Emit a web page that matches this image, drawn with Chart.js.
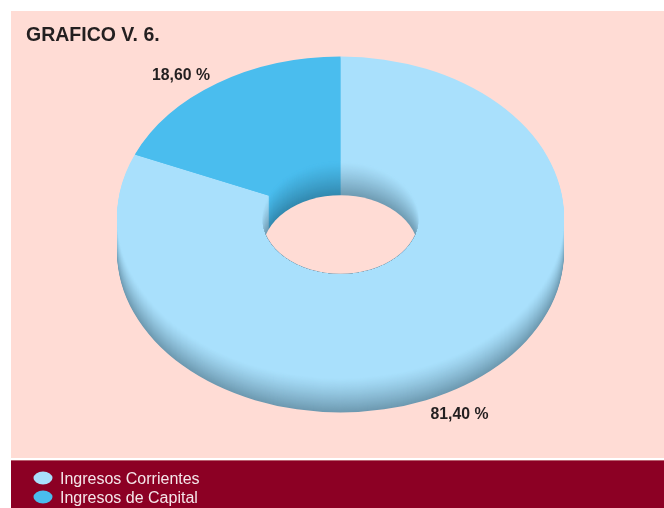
<!DOCTYPE html>
<html>
<head>
<meta charset="utf-8">
<title>Grafico V.6</title>
<script src="https://cdn.jsdelivr.net/npm/chart.js@4"></script>
<style>
  html, body { margin: 0; padding: 0; background: #fff; overflow: hidden; }
  canvas { display: block; }
</style>
</head>
<body>
<canvas id="grafico" width="664" height="508"></canvas>
<script>
const categorias = ['Ingresos Corrientes', 'Ingresos de Capital'];
const valores = [81.40, 18.60];
const etiquetas = ['81,40 %', '18,60 %'];
const titulo = 'GRAFICO V. 6.';
const colores = ['#A9E0FC', '#4ABDEE'];
const coloresSombra = ['#6E9AB1', '#3288AE'];
const posEtiquetas = [[459.5, 418.5], [181, 80]];

const ROSA = '#FFDCD5';
const GUINDA = '#8C0024';
const APLASTADO = 0.72;  // relacion alto/ancho de la elipse
const CENTRO_Y = 217.5;
const GROSOR = 34;

function mezcla(a, b, t) {
  const pa = parseInt(a.slice(1), 16), pb = parseInt(b.slice(1), 16);
  const canal = s => Math.round(((pa >> s) & 255) * (1 - t) + ((pb >> s) & 255) * t);
  return `rgb(${canal(16)},${canal(8)},${canal(0)})`;
}

function sector(ctx, arc, radio, d) {
  ctx.beginPath();
  ctx.moveTo(arc.x, CENTRO_Y + d);
  ctx.ellipse(arc.x, CENTRO_Y + d, radio, radio * APLASTADO, 0, arc.startAngle, arc.endAngle);
  ctx.closePath();
  ctx.fill();
}

// fondo, paredes del anillo y textos
const dona3d = {
  id: 'dona3d',
  beforeDraw(chart) {
    const ctx = chart.ctx;
    ctx.fillStyle = ROSA;
    ctx.fillRect(11, 11, 653, 447);
    ctx.fillStyle = GUINDA;
    ctx.fillRect(11, 460, 653, 48);
    ctx.fillStyle = '#B8606F';
    ctx.fillRect(11, 460, 653, 1);
  },
  beforeDatasetsDraw(chart) {
    const ctx = chart.ctx;
    const arcos = chart.getDatasetMeta(0).data;
    // pared exterior
    for (let d = GROSOR; d >= 1; d--) {
      arcos.forEach((arc, i) => {
        ctx.fillStyle = mezcla(colores[i], coloresSombra[i], Math.pow(d / GROSOR, 1.2));
        sector(ctx, arc, arc.outerRadius, d);
      });
    }
    ctx.save();
    ctx.translate(0, CENTRO_Y);
    ctx.scale(1, APLASTADO);
    ctx.translate(0, -arcos[0].y);
  },
  afterDatasetsDraw(chart) {
    const ctx = chart.ctx;
    ctx.restore();
    const arcos = chart.getDatasetMeta(0).data;
    const r = arcos[0].innerRadius;
    // pared interior, vista por el agujero
    ctx.save();
    ctx.beginPath();
    ctx.ellipse(arcos[0].x, CENTRO_Y, r, r * APLASTADO, 0, 0, Math.PI * 2);
    ctx.clip();
    for (let d = 0; d <= GROSOR; d++) {
      arcos.forEach((arc, i) => {
        ctx.fillStyle = mezcla(colores[i], coloresSombra[i], Math.pow(d / GROSOR, 1.2));
        sector(ctx, arc, r, d);
      });
    }
    ctx.fillStyle = ROSA;
    ctx.beginPath();
    ctx.ellipse(arcos[0].x, CENTRO_Y + GROSOR, r, r * APLASTADO, 0, 0, Math.PI * 2);
    ctx.fill();
    ctx.restore();
  },
  afterDraw(chart) {
    const ctx = chart.ctx;
    ctx.textBaseline = 'alphabetic';
    ctx.fillStyle = '#231F20';
    ctx.textAlign = 'left';
    ctx.font = 'bold 19.5px "Liberation Sans"';
    ctx.fillText(titulo, 26, 40.5);
    ctx.textAlign = 'center';
    ctx.font = 'bold 15.8px "Liberation Sans"';
    etiquetas.forEach((t, i) => ctx.fillText(t, posEtiquetas[i][0], posEtiquetas[i][1]));
    // leyenda
    ctx.textAlign = 'left';
    ctx.font = '16px "Liberation Sans"';
    chart.data.labels.forEach((t, i) => {
      const y = 478 + i * 19;
      ctx.fillStyle = colores[i];
      ctx.beginPath();
      ctx.ellipse(43, y, 9.5, 6.5, 0, 0, Math.PI * 2);
      ctx.fill();
      ctx.fillStyle = '#F5E6EA';
      ctx.fillText(t, 60, y + 6);
    });
  }
};

new Chart(document.getElementById('grafico'), {
  type: 'doughnut',
  data: {
    labels: categorias,
    datasets: [{
      data: valores,
      backgroundColor: colores,
      borderWidth: 0,
      hoverOffset: 0
    }]
  },
  options: {
    responsive: false,
    animation: false,
    cutout: '35%',
    layout: { padding: { left: 117, right: 100, top: 0, bottom: 61 } },
    events: [],
    plugins: { legend: { display: false }, tooltip: { enabled: false } }
  },
  plugins: [dona3d]
});
</script>
</body>
</html>
